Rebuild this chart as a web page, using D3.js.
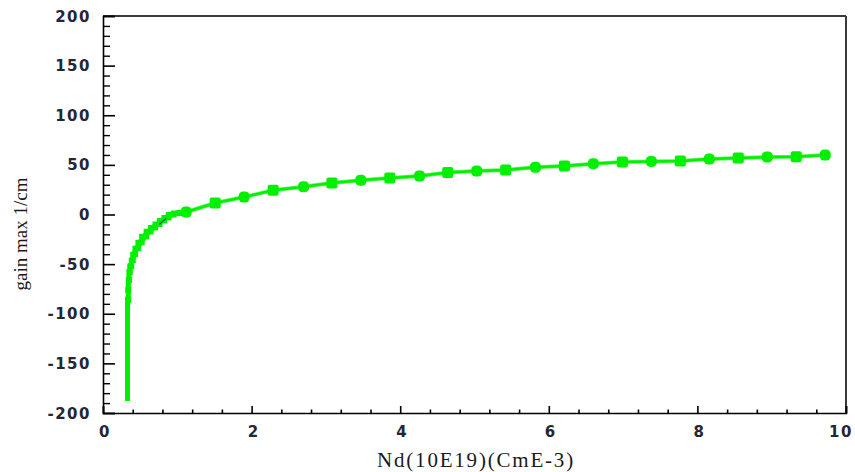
<!DOCTYPE html>
<html>
<head>
<meta charset="utf-8">
<script src="https://cdn.jsdelivr.net/npm/d3@7/dist/d3.min.js"></script>
<style>
  html, body { margin: 0; padding: 0; background: #fff; }
  svg { display: block; }
</style>
</head>
<body>
<svg id="chart" width="855" height="472"></svg>
<script>
// Carrier density (10^19 cm^-3) and maximum gain (1/cm)
const steepN    = [0.33, 0.33, 0.34, 0.34, 0.35, 0.36, 0.38, 0.40, 0.43, 0.47, 0.52, 0.58, 0.64, 0.70, 0.76, 0.82, 0.88, 0.95, 1.03];
const steepGain = [-188, -120, -86, -76, -66, -58, -52, -46, -40, -34, -28, -22, -17, -13, -9.5, -6, -3, 0, 1.5];

const markN    = [1.12, 1.51, 1.90, 2.29, 2.70, 3.08, 3.47, 3.86, 4.26, 4.64, 5.03, 5.42, 5.82, 6.21, 6.60, 6.99, 7.38, 7.77, 8.16, 8.55, 8.94, 9.33, 9.72];
const markGain = [2.5, 11.6, 17.6, 24.5, 28, 31.7, 34.5, 36.8, 38.8, 42.3, 43.8, 44.8, 47.6, 48.9, 51.2, 52.9, 53.5, 53.8, 55.9, 56.9, 57.9, 58.3, 59.9];

// faint second trace visible near the knee
const traceN    = [0.76, 0.80, 0.85];
const traceGain = [-10, -7, -4];

const xTicks = [0, 2, 4, 6, 8, 10];
const yTicks = [-200, -150, -100, -50, 0, 50, 100, 150, 200];

const svg = d3.select("#chart");
const plotL = 103, plotR = 846, plotT = 16, plotB = 413;

const x = d3.scaleLinear().domain([0, 10]).range([plotL, plotR]);
const y = d3.scaleLinear().domain([-200, 200]).range([plotB, plotT]);

const tickFont = "DejaVu Sans, Verdana, sans-serif";
const tickColor = "#252535";

// minor ticks (inward)
const xMinor = d3.range(0, 10.001, 0.4).filter(v => Math.abs(v / 2 - Math.round(v / 2)) > 1e-6);
const yMinor = d3.range(-200, 200.001, 10).filter(v => v % 50 !== 0);

const g = svg.append("g");

// frame: top and right in dark grey
g.append("line").attr("x1", plotL).attr("x2", plotR).attr("y1", plotT).attr("y2", plotT)
  .attr("stroke", "#3a3a3a").attr("stroke-width", 2);
g.append("line").attr("x1", plotR).attr("x2", plotR).attr("y1", plotT).attr("y2", plotB)
  .attr("stroke", "#3a3a3a").attr("stroke-width", 2);

// y axis
const yAx = g.append("g").attr("transform", `translate(${plotL},0)`)
  .call(d3.axisRight(y).tickValues(yTicks).tickSize(12).tickFormat(""));
yAx.select(".domain").attr("stroke", "#000").attr("stroke-width", 1.6);
yAx.selectAll(".tick line").attr("stroke", "#000").attr("stroke-width", 1.6);
g.append("g").attr("transform", `translate(${plotL},0)`)
  .call(d3.axisRight(y).tickValues(yMinor).tickSize(7).tickFormat(""))
  .call(s => s.select(".domain").remove())
  .selectAll(".tick line").attr("stroke", "#000").attr("stroke-width", 1.4);

// x axis
const xAx = g.append("g").attr("transform", `translate(0,${plotB})`)
  .call(d3.axisTop(x).tickValues(xTicks).tickSize(7).tickFormat(""));
xAx.select(".domain").attr("stroke", "#000").attr("stroke-width", 1.6);
xAx.selectAll(".tick line").attr("stroke", "#000").attr("stroke-width", 1.6);
g.append("g").attr("transform", `translate(0,${plotB})`)
  .call(d3.axisTop(x).tickValues(xMinor).tickSize(3.5).tickFormat(""))
  .call(s => s.select(".domain").remove())
  .selectAll(".tick line").attr("stroke", "#000").attr("stroke-width", 1.6);

// tick labels
g.selectAll("text.ylab").data(yTicks).join("text")
  .attr("class", "ylab")
  .attr("x", 91).attr("y", d => y(d) + 5.5)
  .attr("text-anchor", "end")
  .attr("font-family", tickFont).attr("font-weight", "bold").attr("font-size", 15)
  .attr("letter-spacing", "1.5px")
  .attr("fill", tickColor)
  .text(d => d);

g.selectAll("text.xlab").data(xTicks).join("text")
  .attr("class", "xlab")
  .attr("x", d => Math.min(x(d) + 2, 841)).attr("y", 437)
  .attr("text-anchor", "middle")
  .attr("font-family", tickFont).attr("font-weight", "bold").attr("font-size", 15)
  .attr("letter-spacing", "1.5px")
  .attr("fill", tickColor)
  .text(d => d);

// axis titles
svg.append("text")
  .attr("x", 476).attr("y", 467)
  .attr("text-anchor", "middle")
  .attr("font-family", "Liberation Serif, Times New Roman, serif")
  .attr("font-size", 21).attr("letter-spacing", "1.8px")
  .attr("fill", "#1a1a1a")
  .text("Nd(10E19)(CmE-3)");

svg.append("text")
  .attr("transform", "translate(27,234) rotate(-90)")
  .attr("text-anchor", "middle")
  .attr("font-family", "Liberation Serif, Times New Roman, serif")
  .attr("font-size", 19)
  .attr("fill", "#1a1a1a")
  .text("gain max 1/cm");

// curve
const green = "#00f000";
const steepPts = steepN.map((n, i) => [n, steepGain[i]]);
const markPts = markN.map((n, i) => [n, markGain[i]]);
const allPts = steepPts.concat(markPts);

const line = d3.line().x(d => x(d[0])).y(d => y(d[1]));

svg.append("path").datum(allPts)
  .attr("d", line).attr("fill", "none")
  .attr("stroke", "#66f566").attr("stroke-width", 4);
svg.append("path").datum(allPts)
  .attr("d", line).attr("fill", "none")
  .attr("stroke", green).attr("stroke-width", 2.5);

// heavy steep branch
svg.append("path").datum(steepPts)
  .attr("d", d3.line().x(d => x(d[0])).y(d => y(d[1])).curve(d3.curveStepBefore))
  .attr("fill", "none").attr("stroke", green).attr("stroke-width", 5);

svg.selectAll("rect.small").data(steepPts.slice(2)).join("rect")
  .attr("class", "small")
  .attr("x", d => x(d[0]) - 3).attr("y", d => y(d[1]) - 3)
  .attr("width", 6).attr("height", 6)
  .attr("fill", green);

// faint trace near the knee
svg.append("path").datum(traceN.map((n, i) => [n, traceGain[i]]))
  .attr("d", line).attr("fill", "none")
  .attr("stroke", "#3030c0").attr("stroke-width", 1.2);

// markers
svg.selectAll("rect.mark").data(markPts).join("rect")
  .attr("class", "mark")
  .attr("x", d => x(d[0]) - 5.5).attr("y", d => y(d[1]) - 5.5)
  .attr("width", 11).attr("height", 11)
  .attr("rx", (d, i) => i % 2 ? 2 : 4.5)
  .attr("fill", green);
</script>
</body>
</html>
